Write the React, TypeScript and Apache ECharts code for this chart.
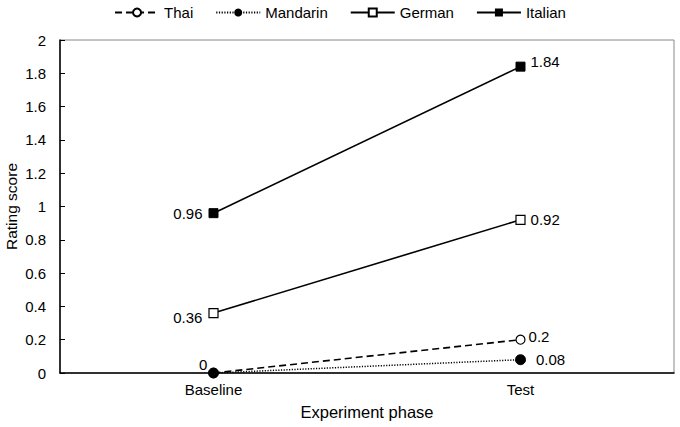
import React, { useEffect, useRef } from "react";
import * as echarts from "echarts";

const categories = ["Baseline", "Test"];
const thai = [0, 0.2];
const mandarin = [0, 0.08];
const german = [0.36, 0.92];
const italian = [0.96, 1.84];
const yTicks = [0, 0.2, 0.4, 0.6, 0.8, 1, 1.2, 1.4, 1.6, 1.8, 2];

const FONT = "Liberation Sans, Arial, sans-serif";

export default function App() {
  const ref = useRef<HTMLDivElement>(null);
  useEffect(() => {
    const chart = echarts.init(ref.current!, null, { renderer: "svg" });
    const lbl = (pos: any, offset: number[] = [0, 0], show = true) => ({
      show,
      position: pos,
      offset,
      color: "#000",
      fontFamily: FONT,
      fontSize: 15,
    });
    const mk = (vals: number[], labels: any[]) =>
      vals.map((v, i) => ({ value: v, label: labels[i] }));
    chart.setOption({
      animation: false,
      textStyle: { fontFamily: FONT },
      legend: {
        top: 0,
        left: "center",
        itemWidth: 44,
        itemHeight: 10,
        itemGap: 22,
        textStyle: { fontFamily: FONT, fontSize: 15, color: "#000" },
        data: ["Thai", "Mandarin", "German", "Italian"],
      },
      grid: {
        left: 60,
        right: 6,
        top: 40,
        bottom: 54,
        containLabel: false,
        outerBoundsMode: "none",
        show: true,
        borderColor: "#888",
        borderWidth: 1,
      },
      xAxis: {
        type: "category",
        data: categories,
        boundaryGap: true,
        name: "Experiment phase",
        nameLocation: "middle",
        nameGap: 30,
        nameMoveOverlap: false,
        nameTextStyle: { fontFamily: FONT, fontSize: 16.5, color: "#000" },
        axisLine: { lineStyle: { color: "#000", width: 1.5 } },
        axisTick: { inside: true, length: 5, lineStyle: { color: "#000" } },
        axisLabel: { fontFamily: FONT, fontSize: 15, color: "#000", margin: 9 },
      },
      yAxis: {
        type: "value",
        min: yTicks[0],
        max: yTicks[yTicks.length - 1],
        interval: 0.2,
        name: "Rating score",
        nameLocation: "middle",
        nameGap: 41,
        nameMoveOverlap: false,
        nameTextStyle: { fontFamily: FONT, fontSize: 15.5, color: "#000" },
        axisLine: { show: true, lineStyle: { color: "#000", width: 1.5 } },
        axisTick: { show: true, inside: true, length: 5, lineStyle: { color: "#000" } },
        splitLine: { show: false },
        axisLabel: { fontFamily: FONT, fontSize: 15, color: "#000", margin: 14 },
      },
      series: [
        {
          name: "Thai",
          type: "line",
          symbol: "circle",
          symbolSize: 9,
          itemStyle: { color: "#fff", borderColor: "#000", borderWidth: 1.2 },
          lineStyle: { color: "#000", width: 1.6, type: [7, 4] },
          data: mk(thai, [lbl("left", [4, -9]), lbl("right", [-2, -3])]),
          z: 3,
        },
        {
          name: "Mandarin",
          type: "line",
          symbol: "circle",
          symbolSize: 10,
          itemStyle: { color: "#000", borderColor: "#000" },
          lineStyle: { color: "#000", width: 1.5, type: [1.2, 1.5] },
          data: mk(mandarin, [lbl("left", [0, 0], false), lbl("right", [5, 0])]),
          z: 4,
        },
        {
          name: "German",
          type: "line",
          symbol: "rect",
          symbolSize: 9,
          itemStyle: { color: "#fff", borderColor: "#000", borderWidth: 1.2 },
          lineStyle: { color: "#000", width: 1.6 },
          data: mk(german, [lbl("left", [-1, 4]), lbl("right")]),
        },
        {
          name: "Italian",
          type: "line",
          symbol: "rect",
          symbolSize: 9,
          itemStyle: { color: "#000", borderColor: "#000" },
          lineStyle: { color: "#000", width: 1.6 },
          data: mk(italian, [lbl("left", [-1, 0]), lbl("right", [0, -5])]),
        },
      ],
    });
    return () => chart.dispose();
  }, []);
  return (
    <div
      ref={ref}
      style={{ position: "absolute", left: 0, top: 0, width: 680, height: 427 }}
    />
  );
}
